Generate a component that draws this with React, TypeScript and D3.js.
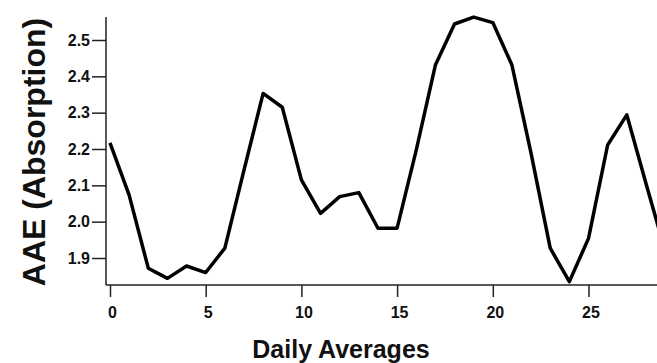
import React, { useEffect, useRef } from 'react';
import * as d3 from 'd3';

// daily averages of AAE (absorption)
const days = [0, 1, 2, 3, 4, 5, 6, 7, 8, 9, 10, 11, 12, 13, 14, 15, 16, 17, 18, 19, 20, 21, 22, 23, 24, 25, 26, 27, 28, 29];
const aae = [2.217, 2.073, 1.872, 1.844, 1.878, 1.86, 1.927, 2.142, 2.353, 2.315, 2.115, 2.023, 2.069, 2.08, 1.982, 1.982, 2.197, 2.431, 2.544, 2.563, 2.548, 2.431, 2.188, 1.927, 1.835, 1.954, 2.211, 2.294, 2.106, 1.92];
const xTicks = [0, 5, 10, 15, 20, 25];
const yTicks = [1.9, 2.0, 2.1, 2.2, 2.3, 2.4, 2.5];

const W = 657;
const H = 363;

const App = () => {
  const svgRef = useRef<SVGSVGElement>(null);

  useEffect(() => {
    const svg = d3.select(svgRef.current);
    svg.selectAll('*').remove();

    const x = d3.scaleLinear().domain([0, 25]).range([110, 588.5]);
    const y = d3.scaleLinear().domain([1.9, 2.5]).range([258, 40]);
    const axisY = 285;
    const axisX = 106;

    svg.append('defs').append('clipPath').attr('id', 'plot')
      .append('rect').attr('x', axisX).attr('y', 0).attr('width', W - axisX).attr('height', axisY);

    // y axis
    const ya = svg.append('g')
      .attr('transform', `translate(${axisX},0)`)
      .call(d3.axisLeft(y).tickValues(yTicks).tickFormat(d3.format('.1f')).tickSize(14).tickPadding(2));
    ya.select('.domain').attr('d', `M0,17V${axisY}`);

    // x axis
    const xa = svg.append('g')
      .attr('transform', `translate(0,${axisY})`)
      .call(d3.axisBottom(x).tickValues(xTicks).tickFormat(d3.format('d')).tickSize(12).tickPadding(10));
    xa.select('.domain').attr('d', `M${axisX},0H${W}`);

    svg.selectAll('.domain, .tick line').attr('stroke', '#222').attr('stroke-width', 1.5);
    svg.selectAll('.tick text')
      .attr('fill', '#111')
      .style('font-family', 'Liberation Sans, Arial, sans-serif')
      .style('font-weight', 'bold')
      .style('font-size', '16px');
    xa.selectAll('.tick text').attr('dx', 2);

    const line = d3.line<number>()
      .x((d, i) => x(days[i]))
      .y((d) => y(d));

    svg.append('path')
      .datum(aae)
      .attr('clip-path', 'url(#plot)')
      .attr('d', line)
      .attr('fill', 'none')
      .attr('stroke', '#000')
      .attr('stroke-width', 3.5)
      .attr('stroke-linejoin', 'round');

    svg.append('text')
      .text('Daily Averages')
      .attr('x', 341)
      .attr('y', 358)
      .attr('text-anchor', 'middle')
      .style('font-family', 'Liberation Sans, Arial, sans-serif')
      .style('font-weight', 'bold')
      .style('font-size', '25px')
      .attr('fill', '#111');

    svg.append('text')
      .text('AAE (Absorption)')
      .attr('transform', `translate(45,152) rotate(-90)`)
      .attr('text-anchor', 'middle')
      .style('font-family', 'Liberation Sans, Arial, sans-serif')
      .style('font-weight', 'bold')
      .style('font-size', '32px')
      .attr('fill', '#111');
  }, []);

  return (
    <svg ref={svgRef} width={W} height={H}
      style={{ position: 'fixed', top: 0, left: 0, background: '#fff' }} />
  );
};

export default App;
